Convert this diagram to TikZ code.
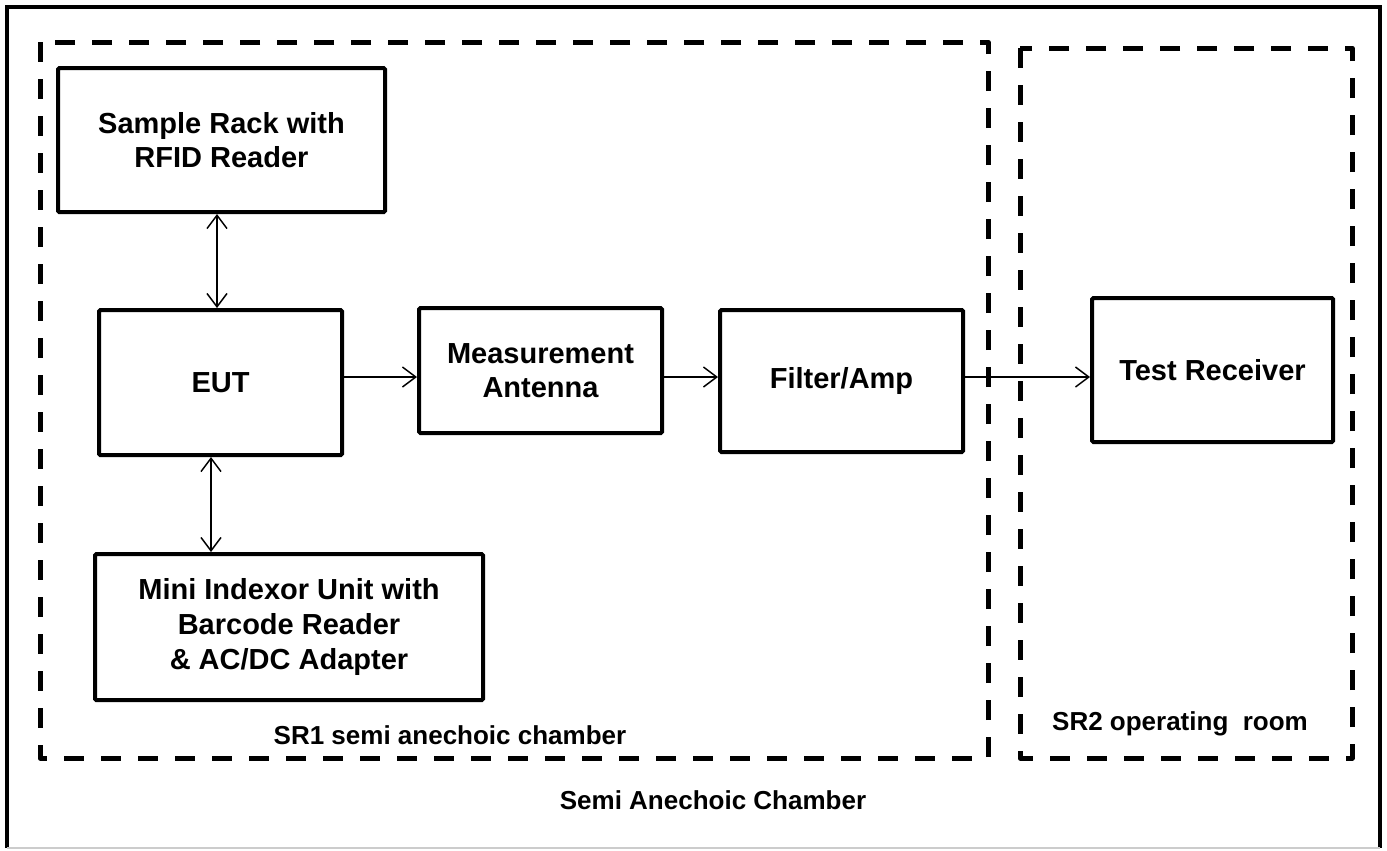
\documentclass[tikz,border=0pt]{standalone}
\usepackage{fontspec}
\setmainfont{Liberation Sans}
\usetikzlibrary{arrows.meta,calc}
\begin{document}
\begin{tikzpicture}[x=0.75pt,y=-0.75pt,
  box/.style={draw,line width=3pt,rounded corners=1pt,align=center,inner sep=0pt,
    font=\fontsize{21.75pt}{26pt}\selectfont\bfseries},
  room/.style={draw,line width=3.75pt,dash pattern=on 15pt off 12.75pt,line join=round},
  lbl/.style={font=\fontsize{19.5pt}{23pt}\selectfont\bfseries,inner sep=0pt},
  arr/.style={line width=1.1pt,-{Straight Barb[length=10pt,width=15pt,line width=1.1pt]}},
  darr/.style={line width=1.1pt,{Straight Barb[length=10pt,width=15pt,line width=1.1pt]}-{Straight Barb[length=10pt,width=15pt,line width=1.1pt]}}]
\useasboundingbox (0,0) rectangle (1387,850);
\fill[white] (0,0) rectangle (1387,850);
% outer frame
\draw[line width=3pt] (7,848) -- (7,7) -- (1380,7) -- (1380,848);
\draw[line width=0.8pt,black!20] (7,848) -- (1380,848);
% rooms
\draw[room] (40,42) rectangle (988,758);
\draw[room] (1020,48) rectangle (1352,758);
% boxes
\node[box,minimum width=245.25pt,minimum height=108pt] (sample) at (221.5,140) {Sample Rack with\\RFID Reader};
\node[box,minimum width=182.25pt,minimum height=108.75pt] (eut) at (220.5,382.5) {EUT};
\node[box,minimum width=182.25pt,minimum height=93.75pt] (meas) at (540.5,370.5) {Measurement\\Antenna};
\node[box,minimum width=182.25pt,minimum height=106.5pt] (filter) at (841.5,381) {Filter/Amp};
\node[box,minimum width=180.75pt,minimum height=108pt] (test) at (1212.5,370) {Test Receiver};
\node[box,minimum width=291pt,minimum height=109.5pt] (mini) at (289,627) {Mini Indexor Unit with\\Barcode Reader\\\& AC/DC Adapter};
% labels
\node[lbl] (sr1) at (450,735) {SR1 semi anechoic chamber};
\node[lbl] (sr2) at (1180,724) {SR2 operating\ \ room};
\node[lbl] (sac) at (713,800) {Semi Anechoic Chamber};
% connectors
\coordinate (x1) at (217,0);
\coordinate (x2) at (211,0);
\coordinate (ya) at (0,377);
\draw[darr] (sample.south -| x1) -- (eut.north -| x1);
\draw[darr] (eut.south -| x2) -- (mini.north -| x2);
\draw[arr] (eut.east |- ya) -- (meas.west |- ya);
\draw[arr] (meas.east |- ya) -- (filter.west |- ya);
\draw[arr] (filter.east |- ya) -- (test.west |- ya);
\end{tikzpicture}
\end{document}
